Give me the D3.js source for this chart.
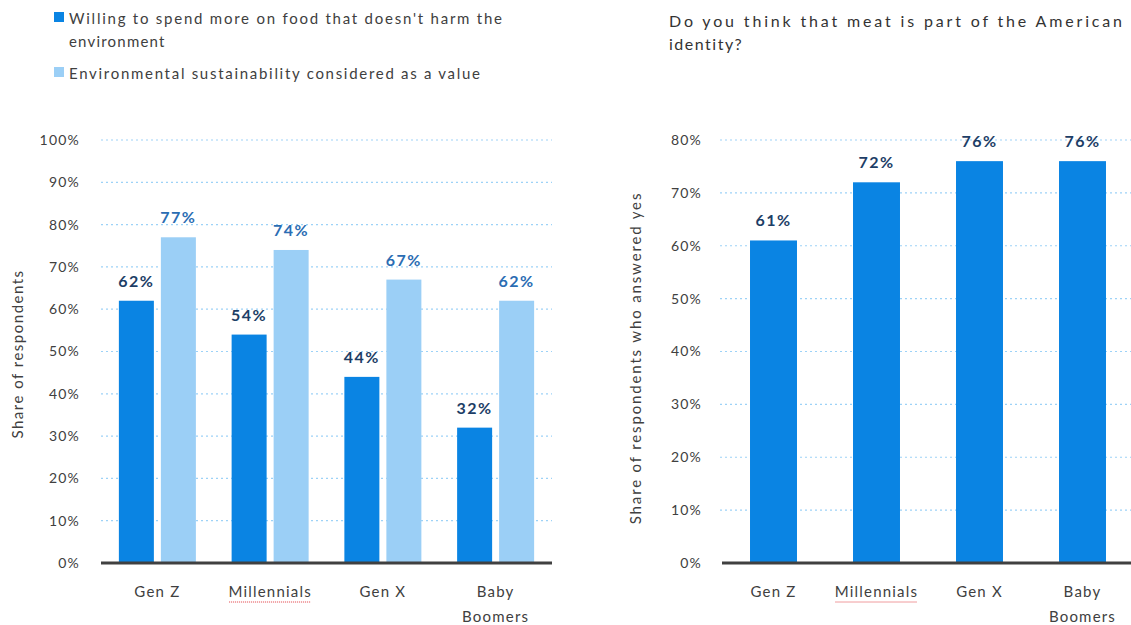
<!DOCTYPE html>
<html>
<head>
<meta charset="utf-8">
<script src="https://cdn.jsdelivr.net/npm/d3@7"></script>
<style>
  body { margin: 0; background: #fff; }
  text { font-family: Lato, "Open Sans", sans-serif; }
</style>
</head>
<body>
<div id="root"></div>
<script>
//DATA
const categories = ["Gen Z", "Millennials", "Gen X", "Baby Boomers"];
const categoryLines = [["Gen Z"], ["Millennials"], ["Gen X"], ["Baby", "Boomers"]];
const seriesNames = ["Willing to spend more on food that doesn't harm the environment",
                     "Environmental sustainability considered as a value"];
const willingToSpend = [62, 54, 44, 32];
const sustainabilityValue = [77, 74, 67, 62];
const meatIdentity = [61, 72, 76, 76];
const leftTicks = [0, 10, 20, 30, 40, 50, 60, 70, 80, 90, 100];
const rightTicks = [0, 10, 20, 30, 40, 50, 60, 70, 80];

//SETUP
const width = 1131, height = 625;
const dark = "#0a84e3", light = "#9bcff6";
const axisColor = "#404040", textColor = "#404040";

let svg = d3.select("#root")
  .append("svg")
  .attr("width", width)
  .attr("height", height);

//LEGEND
const legend = svg.append("g");
legend.append("rect").attr("x", 54).attr("y", 12).attr("width", 10).attr("height", 10).attr("fill", dark);
legend.append("text").attr("x", 69).attr("y", 24)
  .attr("font-size", 15).attr("fill", textColor)
  .attr("textLength", 433).attr("lengthAdjust", "spacing")
  .text("Willing to spend more on food that doesn't harm the");
legend.append("text").attr("x", 69).attr("y", 47)
  .attr("font-size", 15).attr("fill", textColor)
  .attr("letter-spacing", 1.2)
  .text("environment");
legend.append("rect").attr("x", 54).attr("y", 67).attr("width", 10).attr("height", 10).attr("fill", light);
legend.append("text").attr("x", 69).attr("y", 79)
  .attr("font-size", 15).attr("fill", textColor)
  .attr("textLength", 411).attr("lengthAdjust", "spacing")
  .text(seriesNames[1]);

//RIGHT TITLE
svg.append("text").attr("x", 669).attr("y", 27)
  .attr("font-size", 16).attr("fill", "#333")
  .attr("textLength", 453).attr("lengthAdjust", "spacing")
  .text("Do you think that meat is part of the American");
svg.append("text").attr("x", 669).attr("y", 50)
  .attr("font-size", 16).attr("fill", "#333")
  .attr("letter-spacing", 1.5)
  .text("identity?");

//HELPERS
function drawYAxis(y, ticks, x0, x1, labelX) {
  // dotted gridlines
  svg.append("g").selectAll("line")
    .data(ticks.filter(d => d > 0))
    .join("line")
    .attr("x1", x0).attr("x2", x1)
    .attr("y1", d => y(d)).attr("y2", d => y(d))
    .attr("stroke", "#9dd2f7")
    .attr("stroke-width", 1.2)
    .attr("stroke-dasharray", "2,3");

  let ax = svg.append("g")
    .attr("transform", `translate(${labelX},0)`)
    .call(d3.axisLeft(y).tickValues(ticks).tickSize(0).tickPadding(0).tickFormat(d => d + "%"));
  ax.select(".domain").remove();
  ax.selectAll("text").attr("font-size", 14).attr("fill", textColor)
    .attr("letter-spacing", 1.2)
    .style("font-family", "Lato, sans-serif");
}

function drawXAxis(x, yBase, x0, x1) {
  svg.append("line")
    .attr("x1", x0).attr("x2", x1)
    .attr("y1", yBase).attr("y2", yBase)
    .attr("stroke", axisColor).attr("stroke-width", 3);

  let labels = svg.append("g").selectAll("text")
    .data(categories)
    .join("text")
    .attr("x", d => x(d) + x.bandwidth() / 2)
    .attr("y", yBase + 34)
    .attr("text-anchor", "middle")
    .attr("font-size", 15)
    .attr("letter-spacing", 1.2)
    .attr("fill", textColor);
  labels.selectAll("tspan")
    .data((d, i) => categoryLines[i])
    .join("tspan")
    .attr("x", function() { return this.parentNode.getAttribute("x"); })
    .attr("dy", (d, i) => i === 0 ? 0 : 25)
    .text(d => d);

  // spell-check squiggle under Millennials, as in the screenshot
  const mx = x("Millennials") + x.bandwidth() / 2;
  svg.append("line")
    .attr("x1", mx - 41).attr("x2", mx + 41)
    .attr("y1", yBase + 39).attr("y2", yBase + 39)
    .attr("stroke", "#e0393e").attr("stroke-width", 1)
    .attr("stroke-dasharray", "1,1");
}

//LEFT CHART SCALES
const yL = d3.scaleLinear().domain([0, 100]).range([563, 140]);
const x0L = d3.scaleBand().domain(categories).range([101, 552])
  .paddingInner(0.317).paddingOuter(0.1585);
const x1L = d3.scaleBand().domain([0, 1]).range([0, x0L.bandwidth()])
  .paddingInner(0.1667);

drawYAxis(yL, leftTicks, 101, 552, 80);

const leftData = categories.map((c, i) => ({
  cat: c,
  vals: [willingToSpend[i], sustainabilityValue[i]]
}));

let groups = svg.append("g").selectAll("g")
  .data(leftData)
  .join("g")
  .attr("transform", d => `translate(${x0L(d.cat)},0)`);

groups.selectAll("rect")
  .data(d => d.vals.map((v, s) => ({v, s})))
  .join("rect")
  .attr("x", d => x1L(d.s))
  .attr("y", d => yL(d.v))
  .attr("width", x1L.bandwidth())
  .attr("height", d => yL(0) - yL(d.v))
  .attr("fill", d => d.s === 0 ? dark : light);

groups.selectAll("text")
  .data(d => d.vals.map((v, s) => ({v, s})))
  .join("text")
  .attr("x", d => x1L(d.s) + x1L.bandwidth() / 2)
  .attr("y", d => yL(d.v) - 14)
  .attr("text-anchor", "middle")
  .attr("font-size", 16)
  .attr("font-weight", "bold")
  .attr("letter-spacing", 1.5)
  .attr("fill", d => d.s === 0 ? "#1d3e66" : "#2b6db3")
  .text(d => d.v + "%");

drawXAxis(x0L, 563, 101, 552);

svg.append("text")
  .attr("transform", "translate(23,354) rotate(-90)")
  .attr("text-anchor", "middle")
  .attr("font-size", 15)
  .attr("fill", textColor)
  .attr("letter-spacing", 1.5)
  .text("Share of respondents");

//RIGHT CHART SCALES
const yR = d3.scaleLinear().domain([0, 80]).range([563, 140]);
const xR = d3.scaleBand().domain(categories).range([722, 1134])
  .paddingInner(0.544).paddingOuter(0.272);

drawYAxis(yR, rightTicks, 720, 1131, 702);

svg.append("g").selectAll("rect")
  .data(meatIdentity)
  .join("rect")
  .attr("x", (d, i) => xR(categories[i]))
  .attr("y", d => yR(d))
  .attr("width", xR.bandwidth())
  .attr("height", d => yR(0) - yR(d))
  .attr("fill", dark);

svg.append("g").selectAll("text")
  .data(meatIdentity)
  .join("text")
  .attr("x", (d, i) => xR(categories[i]) + xR.bandwidth() / 2)
  .attr("y", d => yR(d) - 14)
  .attr("text-anchor", "middle")
  .attr("font-size", 16)
  .attr("font-weight", "bold")
  .attr("letter-spacing", 1.5)
  .attr("fill", "#1d3e66")
  .text(d => d + "%");

drawXAxis(xR, 563, 722, 1131);

svg.append("text")
  .attr("transform", "translate(641,358) rotate(-90)")
  .attr("text-anchor", "middle")
  .attr("font-size", 15)
  .attr("fill", textColor)
  .attr("letter-spacing", 1.85)
  .text("Share of respondents who answered yes");
</script>
</body>
</html>
